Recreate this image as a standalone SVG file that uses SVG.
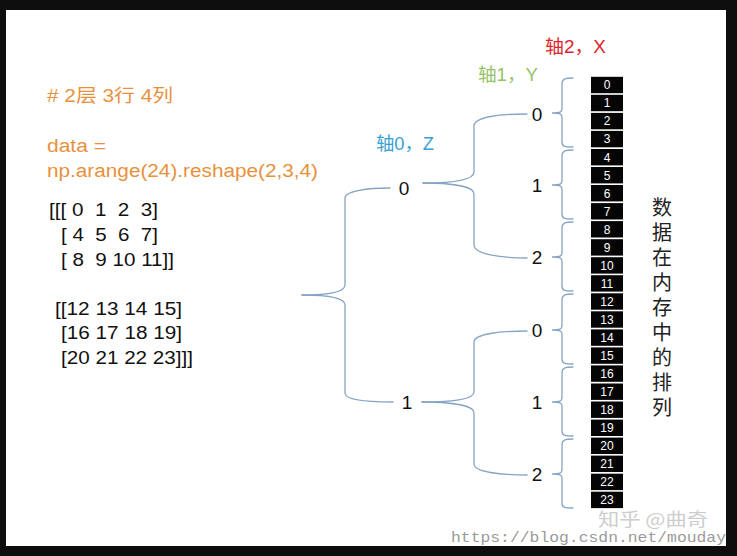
<svg xmlns="http://www.w3.org/2000/svg" width="737" height="556" viewBox="0 0 737 556">
<style>
.brace{fill:none;stroke:#86a5c3;stroke-width:1.3;stroke-linecap:round}
.cell rect{fill:#050505}
.cell text{fill:#ffffff;font-family:"Liberation Sans",sans-serif;font-size:12px;text-anchor:middle}
.orange{fill:#e8913d;font-family:"Liberation Sans","Noto Sans CJK SC",sans-serif;font-size:18px}
.arr{fill:#111;font-family:"Liberation Sans",sans-serif;font-size:18px;white-space:pre}
.num{fill:#111;font-family:"Liberation Sans",sans-serif;font-size:19px;text-anchor:middle}
.axis{font-family:"Liberation Sans","Noto Sans CJK SC",sans-serif;font-size:18px}
.vert{fill:#222;font-family:"Noto Sans CJK SC",sans-serif;font-size:20px;writing-mode:vertical-rl;letter-spacing:5px}
</style>
<rect x="0" y="0" width="737" height="556" fill="#0e0e0e"/>
<rect x="6" y="10" width="720" height="536" fill="#ffffff"/>

<g id="code">
<text class="orange" x="47" y="102" textLength="126" lengthAdjust="spacingAndGlyphs"># 2层 3行 4列</text>
<text class="orange" x="47" y="152" textLength="59" lengthAdjust="spacingAndGlyphs">data =</text>
<text class="orange" x="47" y="177" textLength="271" lengthAdjust="spacingAndGlyphs">np.arange(24).reshape(2,3,4)</text>
</g>

<g id="array">
<text class="arr" xml:space="preserve" x="49" y="216" textLength="109" lengthAdjust="spacingAndGlyphs">[[[ 0  1  2  3]</text>
<text class="arr" xml:space="preserve" x="61" y="241" textLength="97" lengthAdjust="spacingAndGlyphs">[ 4  5  6  7]</text>
<text class="arr" xml:space="preserve" x="61" y="266" textLength="113" lengthAdjust="spacingAndGlyphs">[ 8  9 10 11]]</text>
<text class="arr" xml:space="preserve" x="55" y="315" textLength="127" lengthAdjust="spacingAndGlyphs">[[12 13 14 15]</text>
<text class="arr" xml:space="preserve" x="61" y="339" textLength="121" lengthAdjust="spacingAndGlyphs">[16 17 18 19]</text>
<text class="arr" xml:space="preserve" x="61" y="364" textLength="132" lengthAdjust="spacingAndGlyphs">[20 21 22 23]]]</text>
</g>

<g id="axis-labels">
<text class="axis" x="376" y="150" fill="#3a9fd3" textLength="58" lengthAdjust="spacingAndGlyphs">轴0，Z</text>
<text class="axis" x="478" y="81" fill="#94c266" textLength="60" lengthAdjust="spacingAndGlyphs">轴1，Y</text>
<text class="axis" x="545" y="53" fill="#e0242a" textLength="61" lengthAdjust="spacingAndGlyphs">轴2，X</text>
</g>

<g id="connectors">
<path class="brace" d="M302,295 C325,295 345,293 345,285 L345,198 C345,191 368,188 390,188"/>
<path class="brace" d="M302,295 C325,295 345,297 345,305 L345,393 C345,400 368,402 393,402"/>
<path class="brace" d="M423,183 C450,183 474,181 474,172 L474,126 C474,117 500,114 527,114"/>
<path class="brace" d="M423,183 C450,183 474,186 474,194 L474,245 C474,254 500,258 527,258"/>
<path class="brace" d="M422,402 C450,402 474,400 474,392 L474,342 C474,334 500,331 527,331"/>
<path class="brace" d="M422,402 C450,402 474,405 474,413 L474,464 C474,472 500,475 527,475"/>
<path class="brace" d="M573,78 C565,78 562,79 562,84 L562,109 C562,112 560,113 552,113 C560,113 562,114 562,117 L562,142 C562,147 565,147 573,147"/>
<path class="brace" d="M573,150 C565,150 562,151 562,156 L562,181 C562,184 560,185 552,185 C560,185 562,186 562,189 L562,214 C562,219 565,219 573,219"/>
<path class="brace" d="M573,222 C565,222 562,223 562,228 L562,253 C562,256 560,257 552,257 C560,257 562,258 562,261 L562,286 C562,291 565,291 573,291"/>
<path class="brace" d="M573,294 C565,294 562,295 562,300 L562,326 C562,329 560,330 552,330 C560,330 562,331 562,334 L562,359 C562,364 565,364 573,364"/>
<path class="brace" d="M573,367 C565,367 562,368 562,373 L562,398 C562,401 560,402 552,402 C560,402 562,403 562,406 L562,431 C562,436 565,436 573,436"/>
<path class="brace" d="M573,439 C565,439 562,440 562,445 L562,470 C562,473 560,474 552,474 C560,474 562,475 562,478 L562,503 C562,508 565,508 573,508"/>
</g>

<g id="z0"><text class="num" x="404" y="194.5">0</text></g>
<g id="z1"><text class="num" x="407" y="408.5">1</text></g>
<g id="y0-0"><text class="num" x="537" y="121">0</text></g>
<g id="y0-1"><text class="num" x="537" y="192">1</text></g>
<g id="y0-2"><text class="num" x="537" y="264">2</text></g>
<g id="y1-0"><text class="num" x="537" y="337">0</text></g>
<g id="y1-1"><text class="num" x="537" y="409">1</text></g>
<g id="y1-2"><text class="num" x="537" y="481">2</text></g>

<g id="memory" class="cell">
<rect x="591" y="76.8" width="32" height="16.4"/><text x="607" y="89.3">0</text>
<rect x="591" y="94.8" width="32" height="16.4"/><text x="607" y="107.3">1</text>
<rect x="591" y="112.9" width="32" height="16.4"/><text x="607" y="125.4">2</text>
<rect x="591" y="130.9" width="32" height="16.4"/><text x="607" y="143.4">3</text>
<rect x="591" y="149.0" width="32" height="16.4"/><text x="607" y="161.5">4</text>
<rect x="591" y="167.0" width="32" height="16.4"/><text x="607" y="179.5">5</text>
<rect x="591" y="185.0" width="32" height="16.4"/><text x="607" y="197.5">6</text>
<rect x="591" y="203.1" width="32" height="16.4"/><text x="607" y="215.6">7</text>
<rect x="591" y="221.1" width="32" height="16.4"/><text x="607" y="233.6">8</text>
<rect x="591" y="239.2" width="32" height="16.4"/><text x="607" y="251.7">9</text>
<rect x="591" y="257.2" width="32" height="16.4"/><text x="607" y="269.7">10</text>
<rect x="591" y="275.2" width="32" height="16.4"/><text x="607" y="287.7">11</text>
<rect x="591" y="293.3" width="32" height="16.4"/><text x="607" y="305.8">12</text>
<rect x="591" y="311.3" width="32" height="16.4"/><text x="607" y="323.8">13</text>
<rect x="591" y="329.4" width="32" height="16.4"/><text x="607" y="341.9">14</text>
<rect x="591" y="347.4" width="32" height="16.4"/><text x="607" y="359.9">15</text>
<rect x="591" y="365.4" width="32" height="16.4"/><text x="607" y="377.9">16</text>
<rect x="591" y="383.5" width="32" height="16.4"/><text x="607" y="396.0">17</text>
<rect x="591" y="401.5" width="32" height="16.4"/><text x="607" y="414.0">18</text>
<rect x="591" y="419.6" width="32" height="16.4"/><text x="607" y="432.1">19</text>
<rect x="591" y="437.6" width="32" height="16.4"/><text x="607" y="450.1">20</text>
<rect x="591" y="455.6" width="32" height="16.4"/><text x="607" y="468.1">21</text>
<rect x="591" y="473.7" width="32" height="16.4"/><text x="607" y="486.2">22</text>
<rect x="591" y="491.7" width="32" height="16.4"/><text x="607" y="504.2">23</text>
</g>

<g id="caption">
<text class="vert" x="662" y="197">数据在内存中的排列</text>
</g>

<g id="watermark">
<text x="598" y="526" fill="#c4c4c4" fill-opacity="0.85" font-family="'Noto Sans CJK SC',sans-serif" font-size="18" textLength="110" lengthAdjust="spacingAndGlyphs">知乎 @曲奇</text>
<text x="451" y="542" fill="#9a9a9a" font-family="'Liberation Mono',monospace" font-size="15" textLength="275" lengthAdjust="spacingAndGlyphs">https://blog.csdn.net/mouday</text>
</g>
</svg>
